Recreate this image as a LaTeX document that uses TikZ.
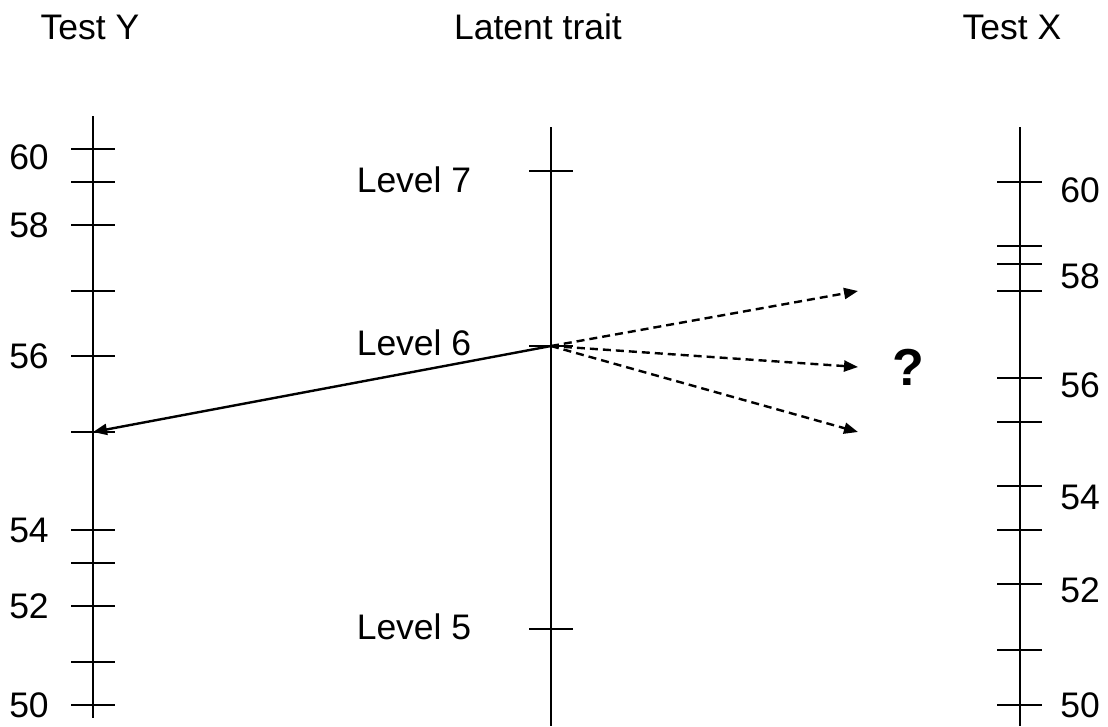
\documentclass[tikz,border=0pt]{standalone}
\usepackage{fontspec}
\setmainfont{Liberation Sans}
\usetikzlibrary{arrows.meta}
\begin{document}
\begin{tikzpicture}[x=1pt,y=-1pt,
  axisline/.style={line width=1.6pt},
  tickline/.style={line width=1.6pt},
  lbl/.style={inner sep=0pt,font=\fontsize{35.5}{40}\selectfont},
  linkarrow/.style={line width=2.4pt,-{Triangle[length=14pt,width=11pt]}},
  guessarrow/.style={line width=2.4pt,dash pattern=on 8pt off 5pt,-{Triangle[length=14pt,width=11pt]}}]
\useasboundingbox (0,0) rectangle (1108,726);
% titles
\node[lbl] (ty) at (90,27) {Test Y};
\node[lbl] (lt) at (538,27) {Latent trait};
\node[lbl] (tx) at (1012,27) {Test X};
% axes
\coordinate (ytop) at (93,116); \coordinate (ybot) at (93,718);
\coordinate (ltop) at (551,127); \coordinate (lbot) at (551,726);
\coordinate (xtop) at (1020,127); \coordinate (xbot) at (1020,726);
\draw[axisline] (ytop) -- (ybot);
\draw[axisline] (ltop) -- (lbot);
\draw[axisline] (xtop) -- (xbot);
% Test Y ticks
\foreach \t in {149,182,225,291,356,432,530,563,606,662,705}
  \draw[tickline] (71,\t) -- (115,\t);
\foreach \v/\t in {60/157,58/225,56/356,54/530,52/606,50/705}
  \node[lbl] (y\v) at (29,\t) {\v};
% latent ticks
\foreach \t in {171,346,629}
  \draw[tickline] (529,\t) -- (573,\t);
\node[lbl] (l7) at (414,180) {Level 7};
\node[lbl] (l6) at (414,343) {Level 6};
\node[lbl] (l5) at (414,627) {Level 5};
% Test X ticks
\foreach \t in {182,246,264,291,378,422,486,530,584,650,705}
  \draw[tickline] (997,\t) -- (1042,\t);
\foreach \v/\t in {60/190,58/276,56/385,54/497,52/590,50/705}
  \node[lbl] (x\v) at (1080,\t) {\v};
% arrows
\coordinate (lev6) at (551,346);
\coordinate (yscore) at (93,432);
\coordinate (g1) at (858,291);
\coordinate (g2) at (858,367);
\coordinate (g3) at (858,432);
\draw[linkarrow] (lev6) -- (yscore);
\draw[guessarrow] (lev6) -- (g1);
\draw[guessarrow] (lev6) -- (g2);
\draw[guessarrow] (lev6) -- (g3);
\node[inner sep=0pt,font=\fontsize{52}{58}\selectfont\bfseries] (q) at (908,367) {?};
\end{tikzpicture}
\end{document}
